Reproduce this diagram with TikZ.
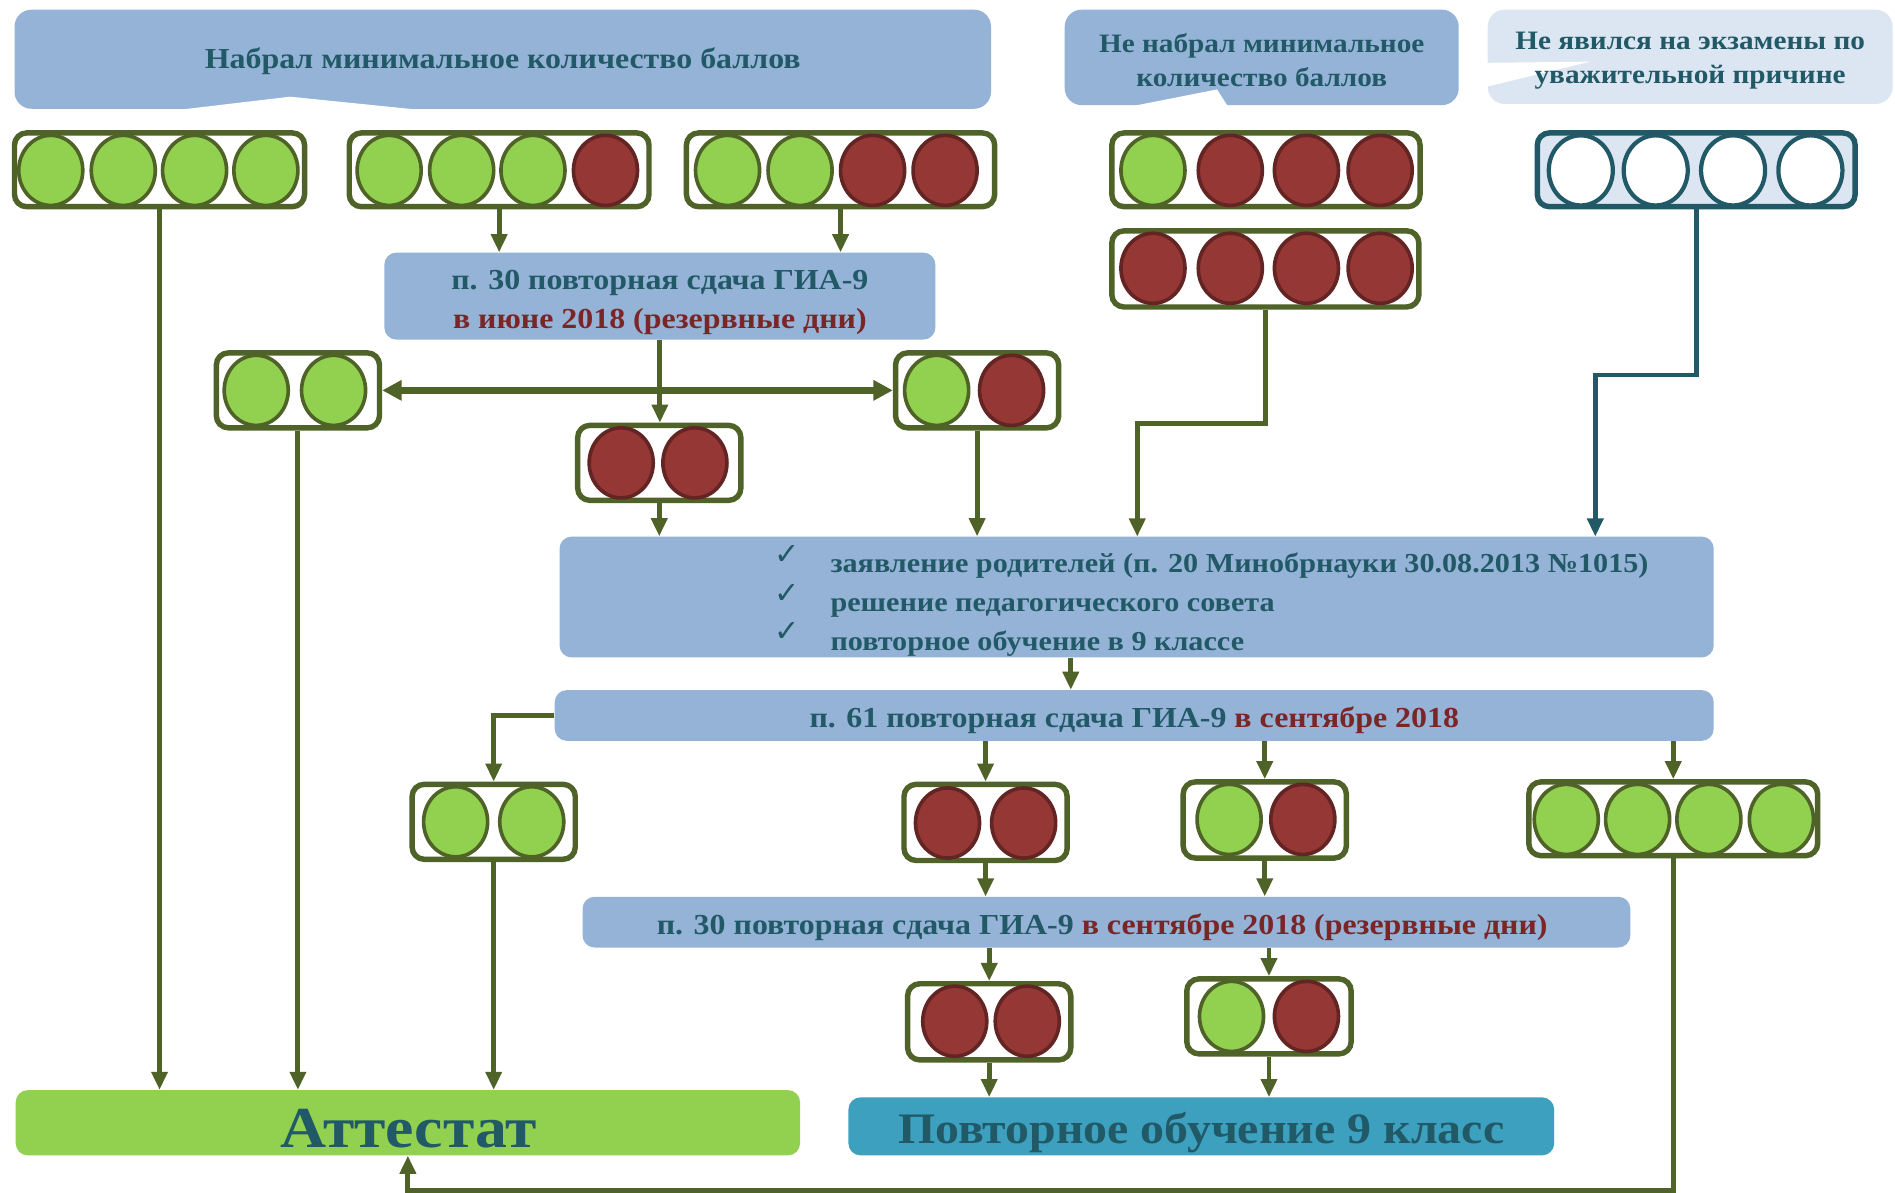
\documentclass[tikz,border=0pt]{standalone}
\usepackage{fontspec}
\setmainfont{Liberation Serif}[FakeStretch=1.1]
\newfontfamily\symfont{DejaVu Sans}
\usetikzlibrary{shapes.geometric,arrows.meta,calc}
\definecolor{olv}{HTML}{4F6228}
\definecolor{lgr}{HTML}{92D050}
\definecolor{crd}{HTML}{953735}
\definecolor{drd}{HTML}{632523}
\definecolor{bbl}{HTML}{95B3D7}
\definecolor{lbl}{HTML}{DCE6F2}
\definecolor{tl}{HTML}{215967}
\definecolor{rtx}{HTML}{7B2626}
\definecolor{pov}{HTML}{3CA0BE}
\newcommand\fs[1]{\fontsize{#1}{#1}\selectfont}
\newcommand\litg[2]{\node[lamp, draw=olv, fill=lgr] (#1) at (#2) {};}
\newcommand\litr[2]{\node[lamp, draw=drd, fill=crd] (#1) at (#2) {};}
\newcommand\litw[2]{\node[lamp, draw=tl, fill=white, line width=3.5pt] (#1) at (#2) {};}
\begin{document}
\begin{tikzpicture}[x=1pt,y=-1pt,
  bar/.style={draw=olv, line width=4.5pt, fill=white, rounded corners=10pt, inner sep=0},
  lamp/.style={ellipse, inner sep=0, minimum width=53pt, minimum height=58pt, line width=3pt},
  bbox/.style={fill=bbl, rounded corners=10pt, inner sep=0, text=tl, font=\bfseries\fs{22}, align=center},
  arr/.style={draw=olv, line width=4pt, -{Triangle[length=15pt,width=13pt]}},
  tarr/.style={draw=tl, line width=4pt, -{Triangle[length=15pt,width=13pt]}},
  line/.style={draw=olv, line width=4pt},
  chk/.style={text=tl, font=\symfont\fs{25}, anchor=base, inner sep=0},
  ltxt/.style={text=tl, font=\bfseries\fs{22.7}, anchor=base west, inner sep=0}
]
\useasboundingbox (0,0) rectangle (1568,987);
\fill[white] (0,0) rectangle (1568,987);

% top callouts
\node[bbox, rounded corners=14pt, minimum width=808pt, minimum height=82pt] (t1) at (416,49) {};
\fill[white] (147,91) -- (240,80) -- (348,91) -- cycle;
\node[text=tl, font=\bfseries\fs{24}, inner sep=0] (t1t) at (416,51) {Набрал минимальное количество баллов};

\node[bbox, rounded corners=14pt, minimum width=326pt, minimum height=79pt] (t2) at (1044,47.5) {};
\fill[white] (936,88) -- (1007,74) -- (1016,88) -- cycle;
\node[text=tl, font=\bfseries\fs{22}, align=center, inner sep=0] (t2t) at (1044,50) {Не набрал минимальное\\[6pt]количество баллов};

\node[bbox, fill=lbl, rounded corners=14pt, minimum width=335pt, minimum height=78pt] (t3) at (1398.5,47) {};
\fill[white] (1229,52) -- (1316,51) -- (1229,72) -- cycle;
\node[text=tl, font=\bfseries\fs{22}, align=center, inner sep=0] (t3t) at (1398.5,50) {Не явился на экзамены по\\[6pt]уважительной причине};

% row 1 bars
\node[bar, minimum width=240pt, minimum height=61pt] (A) at (132,140.5) {};
\litg{A1}{42,141}\litg{A2}{102,141}\litg{A3}{161,141}\litg{A4}{220,141}
\node[bar, minimum width=248pt, minimum height=61pt] (B) at (413,140.5) {};
\litg{B1}{322,141}\litg{B2}{382,141}\litg{B3}{441,141}\litr{B4}{501,141}
\node[bar, minimum width=255pt, minimum height=61pt] (C) at (695.5,140.5) {};
\litg{C1}{602,141}\litg{C2}{662,141}\litr{C3}{722,141}\litr{C4}{782,141}
\node[bar, minimum width=255pt, minimum height=61pt] (D) at (1047.5,140.5) {};
\litg{D1}{954,141}\litr{D2}{1018,141}\litr{D3}{1081,141}\litr{D4}{1142,141}
\node[bar, draw=tl, fill=lbl, minimum width=263pt, minimum height=61pt] (E) at (1403.5,140.5) {};
\litw{E1}{1308,141}\litw{E2}{1370,141}\litw{E3}{1434,141}\litw{E4}{1498,141}
\node[bar, minimum width=254pt, minimum height=63pt] (DD) at (1047,222.5) {};
\litr{DD1}{954,222}\litr{DD2}{1018,222}\litr{DD3}{1081,222}\litr{DD4}{1142,222}

% June box
\node[bbox, minimum width=456pt, minimum height=72pt] (p30) at (546,245) {};
\node[text=tl, font=\bfseries\fs{24}, align=center, inner sep=0] (p30t) at (546,250) {п. 30 повторная сдача ГИА-9\\[8pt]\textcolor{rtx}{в июне 2018 (резервные дни)}};

% two-lamp bars
\node[bar, minimum width=135pt, minimum height=62pt] (F) at (246.5,323) {};
\litg{F1}{212,323}\litg{F2}{276,323}
\node[bar, minimum width=135pt, minimum height=62pt] (H) at (808.5,323) {};
\litg{H1}{775,323}\litr{H2}{837,323}
\node[bar, minimum width=135pt, minimum height=62pt] (I) at (545.5,383) {};
\litr{I1}{514,383}\litr{I2}{575,383}

% main box
\node[bbox, minimum width=955pt, minimum height=100pt] (main) at (940.5,494) {};
\node[chk] (k1) at (651,467) {✓};
\node[chk] (k2) at (651,499) {✓};
\node[chk] (k3) at (651,531) {✓};
\node[ltxt] (m1) at (687,474) {заявление родителей (п. 20 Минобрнауки 30.08.2013 №1015)};
\node[ltxt] (m2) at (687,506) {решение педагогического совета};
\node[ltxt] (m3) at (687,538) {повторное обучение в 9 классе};

% September box
\node[bbox, minimum width=959pt, minimum height=42pt] (p61) at (938.5,592) {};
\node[text=tl, font=\bfseries\fs{24}, inner sep=0] (p61t) at (938.5,596) {п. 61 повторная сдача ГИА-9 \textcolor{rtx}{в сентябре 2018}};

\node[bar, minimum width=135pt, minimum height=62pt] (J) at (408.5,680) {};
\litg{J1}{377,680}\litg{J2}{440,680}
\node[bar, minimum width=135pt, minimum height=63pt] (K) at (815.5,680.5) {};
\litr{K1}{784,681}\litr{K2}{847,681}
\node[bar, minimum width=135pt, minimum height=63pt] (L) at (1046.5,678.5) {};
\litg{L1}{1017,678}\litr{L2}{1078,678}
\node[bar, minimum width=239pt, minimum height=61pt] (M) at (1384.5,677.5) {};
\litg{M1}{1296,678}\litg{M2}{1355,678}\litg{M3}{1414,678}\litg{M4}{1474,678}

% September reserve box
\node[bbox, minimum width=867pt, minimum height=42pt] (p30b) at (915.5,763) {};
\node[text=tl, font=\bfseries\fs{24}, inner sep=0] (p30bt) at (912,767) {п. 30 повторная сдача ГИА-9 \textcolor{rtx}{в сентябре 2018 (резервные дни)}};

\node[bar, minimum width=135pt, minimum height=63pt] (N) at (818.5,845.5) {};
\litr{N1}{790,845}\litr{N2}{850,845}
\node[bar, minimum width=136pt, minimum height=62pt] (O) at (1050,841) {};
\litg{O1}{1019,841}\litr{O2}{1081,841}

% result boxes
\node[bbox, fill=lgr, minimum width=649pt, minimum height=54pt] (att) at (337.5,929) {};
\node[text=tl, font=\bfseries\fs{48}, inner sep=0] (attt) at (338,934) {Аттестат};
\node[bbox, fill=pov, minimum width=584pt, minimum height=48pt] (pov) at (994,932) {};
\node[text=tl, font=\bfseries\fs{36}, inner sep=0] (povt) at (994,937) {Повторное обучение 9 класс};

% connectors
\draw[arr] (B.south) -- (B.south |- p30.north);
\draw[arr] (C.south) -- (C.south |- p30.north);
\draw[arr] (p30.south) -- (p30.south |- I.north);
\draw[line, line width=6pt, {Triangle[length=16pt,width=16pt]}-{Triangle[length=16pt,width=16pt]}] (F.east) -- (H.west);
\draw[arr] (I.south) -- (I.south |- main.north);
\draw[arr] (H.south) -- (H.south |- main.north);
\coordinate (c1) at (941,444);
\draw[arr] (DD.south) -- ++(0,94) -| (c1);
\coordinate (c2) at (1320,444);
\draw[tarr] (E.south) -- ++(0,137) -| (c2);
\draw[arr] ([xshift=-54.5pt]main.south) -- ([xshift=-54.5pt]main.south |- p61.north);
\draw[arr] (p61.west) -| (J.north);
\draw[arr] (K.north |- p61.south) -- (K.north);
\draw[arr] (L.north |- p61.south) -- (L.north);
\draw[arr] (M.north |- p61.south) -- (M.north);
\draw[arr] (K.south) -- (K.south |- p30b.north);
\draw[arr] (L.south) -- (L.south |- p30b.north);
\draw[arr] (N.north |- p30b.south) -- (N.north);
\draw[arr] (O.north |- p30b.south) -- (O.north);
\draw[arr] (N.south) -- (N.south |- pov.north);
\draw[arr] (O.south) -- (O.south |- pov.north);
\draw[arr] (A.south) -- (A.south |- att.north);
\draw[arr] (F.south) -- (F.south |- att.north);
\draw[arr] (J.south) -- (J.south |- att.north);
\draw[arr] (M.south) -- ++(0,275) -| (att.south);
\end{tikzpicture}
\end{document}
